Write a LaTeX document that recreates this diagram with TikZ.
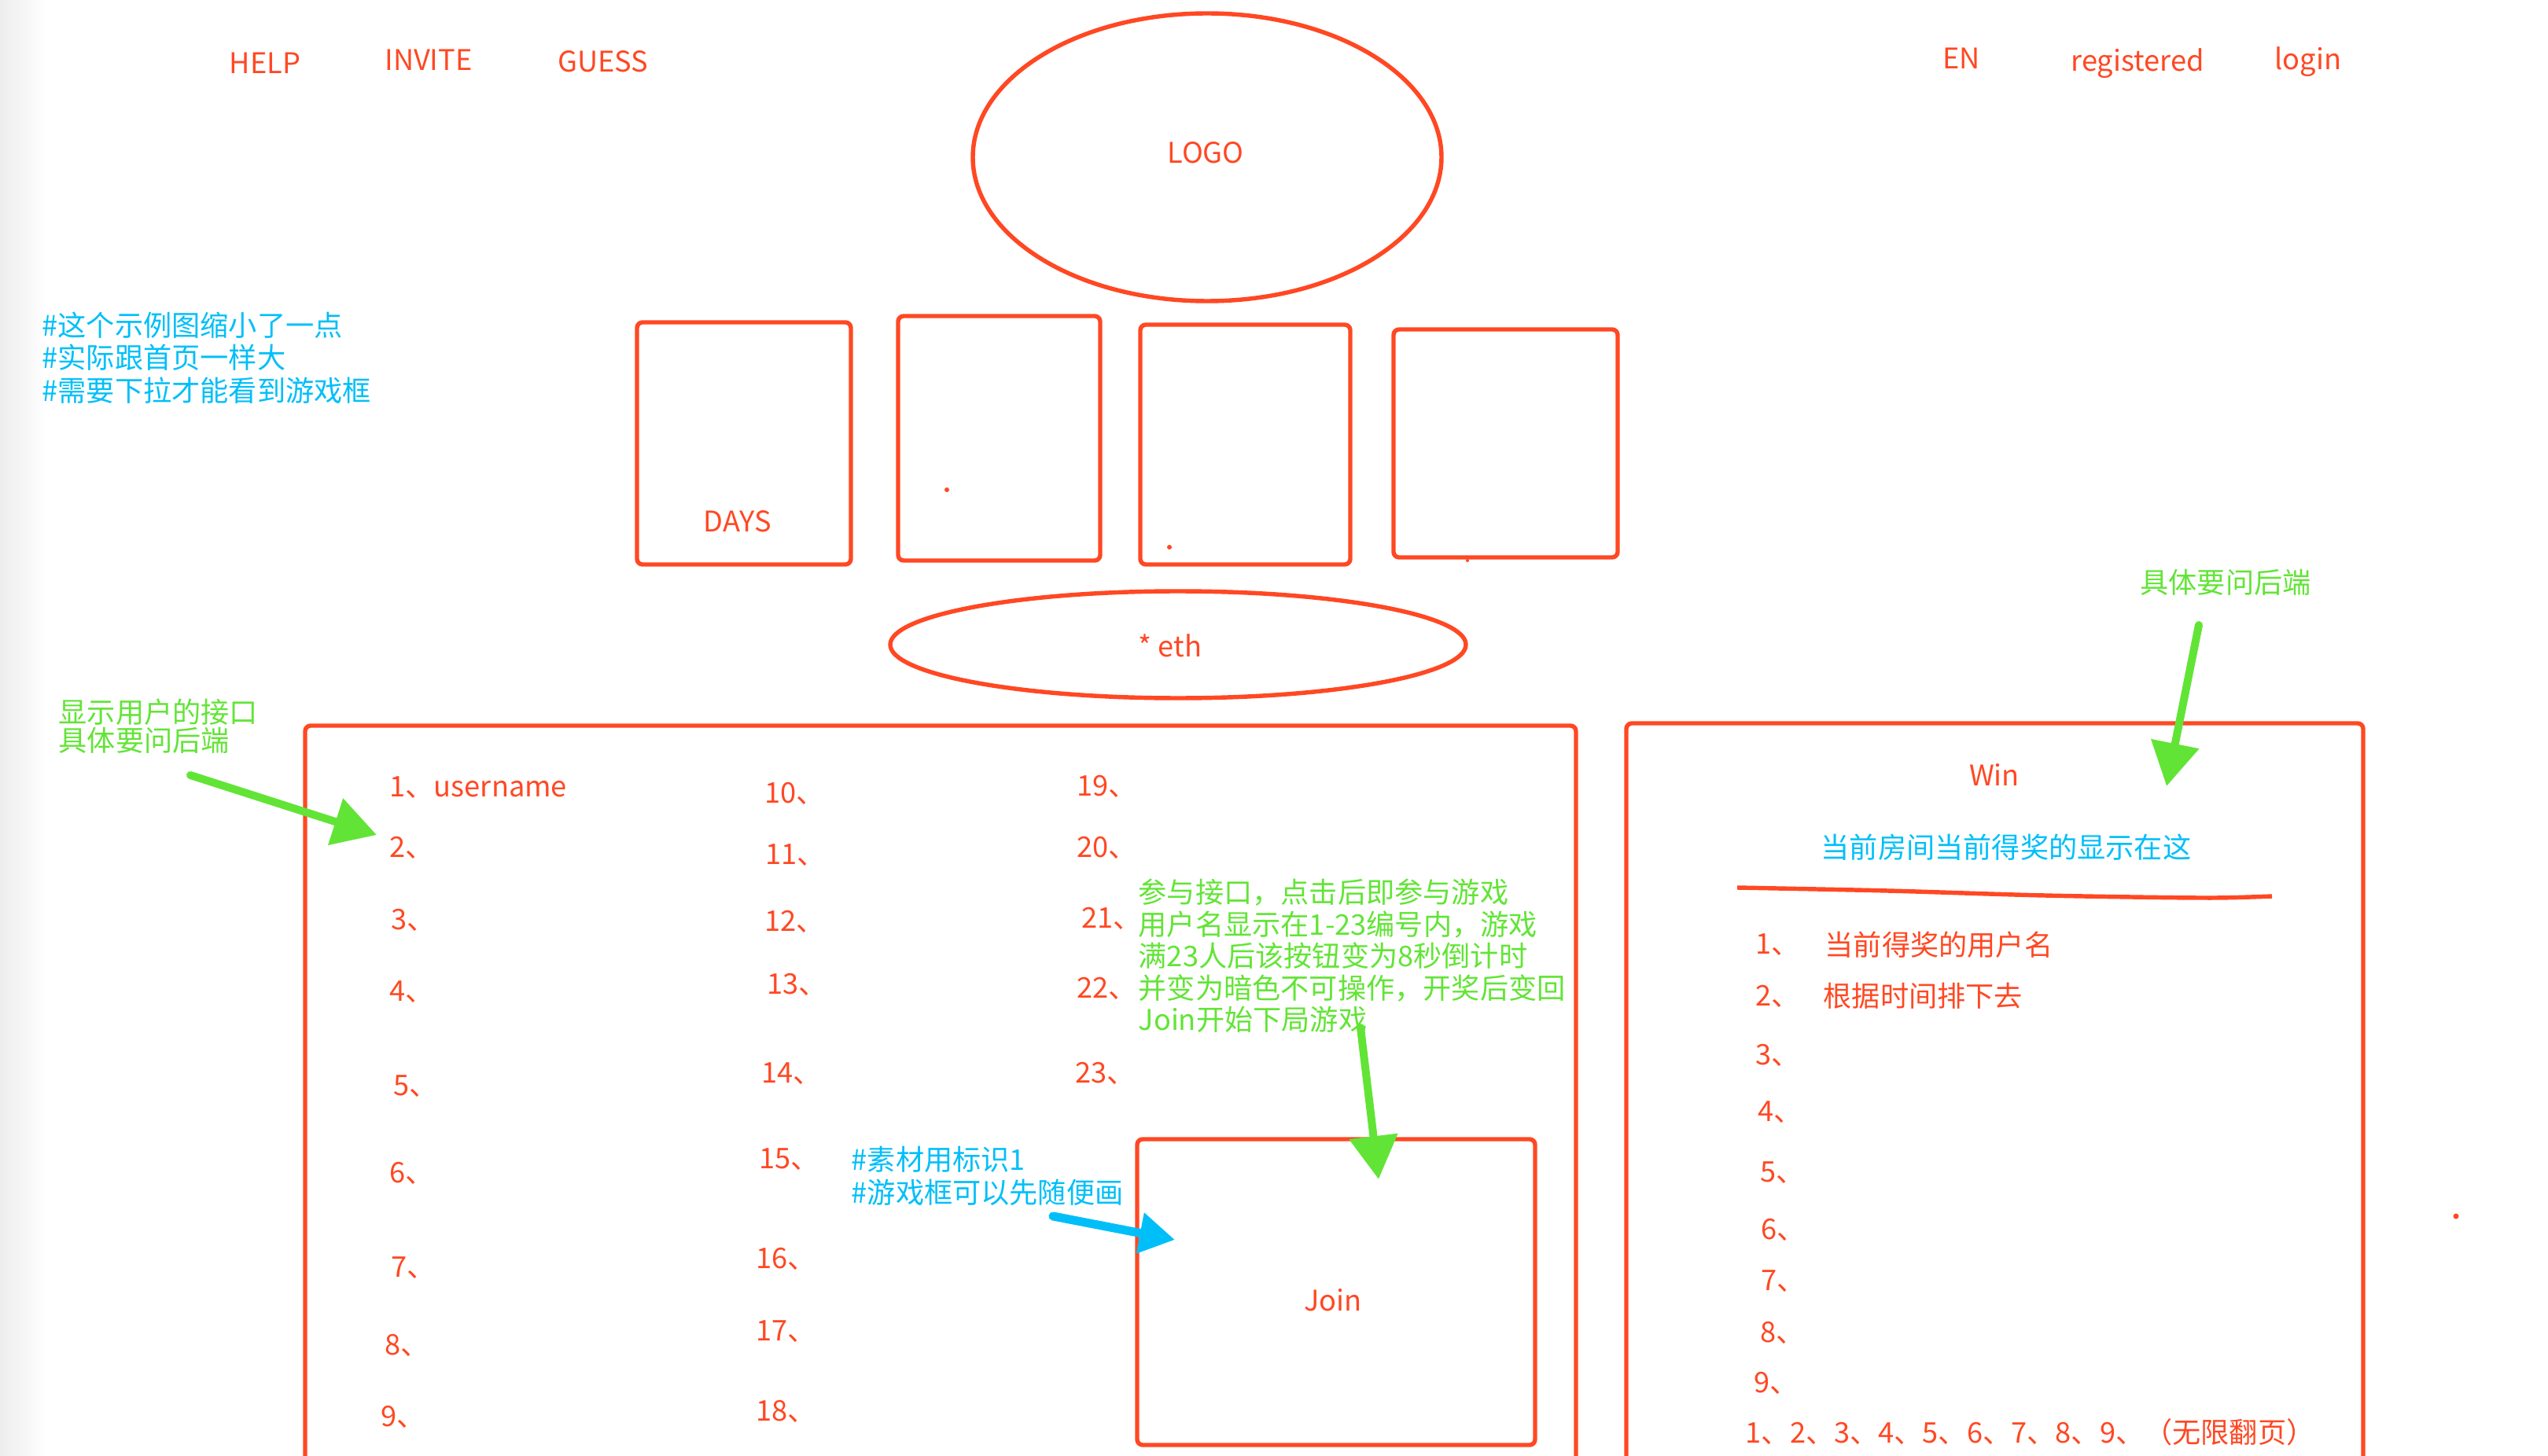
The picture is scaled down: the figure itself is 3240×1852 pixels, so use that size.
\documentclass[tikz,border=0pt]{standalone}
\usepackage{fontspec}
\setmainfont{Noto Sans CJK SC}
\usetikzlibrary{arrows.meta}
\definecolor{redc}{HTML}{FF4823}
\definecolor{greenc}{HTML}{62E436}
\definecolor{bluec}{HTML}{00BFF8}
\tikzset{
	panel/.style={draw=redc, line width=1.55pt, rounded corners=0.7mm},
	lbl/.style={inner sep=0pt, text=redc, font=\fontsize{10.3pt}{12pt}\selectfont},
	gnote/.style={inner sep=0pt, text=greenc, align=left},
	bnote/.style={inner sep=0pt, text=bluec, align=left},
	garrow/.style={draw=greenc, line width=1mm, line cap=round, -{Triangle[width=6mm,length=5.5mm]}},
	barrow/.style={draw=bluec, line width=1.1mm, line cap=round, -{Triangle[width=5mm,length=4.5mm]}}
}
\begin{document}
\begin{tikzpicture}[x=0.1mm, y=-0.1mm, line join=round, >=stealth]
	\useasboundingbox (0,0) rectangle (3240,1852);
	\clip (0,0) rectangle (3240,1852);
	\shade[left color=black!7, right color=white] (0,0) rectangle (60,1852);
	% top bar
	\node[lbl,anchor=base] (help) at (337,94) {HELP};
	\node[lbl,anchor=base] (invite) at (545,90) {INVITE};
	\node[lbl,anchor=base] (guess) at (767,92) {GUESS};
	\node[lbl,anchor=base] (lang) at (2494,88) {EN};
	\node[lbl,anchor=base] (reg) at (2718,91) {registered};
	\node[lbl,anchor=base] (login) at (2935,89) {login};
	\draw[panel] (1535,200) ellipse [x radius=298, y radius=183];
	\node[lbl] (logo) at (1533,194) {LOGO};
	% countdown boxes
	\draw[panel] (810,410) rectangle (1082,718);
	\draw[panel] (1142,402) rectangle (1399,713);
	\draw[panel] (1450,413) rectangle (1717,718);
	\draw[panel] (1772,419) rectangle (2057,709);
	\node[lbl] (days) at (938,663) {DAYS};
	\fill[redc] (1204,623) circle (3);
	\fill[redc] (1487,696) circle (3);
	\fill[redc] (1866,713) circle (2);
	\draw[panel] (1498,820) ellipse [x radius=366, y radius=68];
	\node[lbl] (eth) at (1488,821) {* eth};
	\node[bnote,anchor=west,font=\fontsize{10.3pt}{11.8pt}\selectfont] (scalenote) at (53,455) {\#这个示例图缩小了一点\\\#实际跟首页一样大\\\#需要下拉才能看到游戏框};
	% player list
	\draw[panel] (388,1870) -- (388,923) -- (2004,923) -- (2004,1870);
	\node[lbl,anchor=west] (c1) at (495,1002) {1、username};
	\foreach \n/\x/\y in {2/495/1078,3/497/1170,4/495/1262,5/500/1382,6/495/1492,7/497/1613,8/489/1711,9/484/1802,
		10/972/1009,11/973/1088,12/972/1172,13/975/1252,14/968/1366,15/965/1475,16/961/1601,17/961/1694,18/961/1795,
		19/1369/1000,20/1369/1078,21/1375/1168,22/1369/1257,23/1367/1365}{
		\node[lbl,anchor=west] (c\n) at (\x,\y) {{\n}、};}
	\node[gnote,anchor=west,font=\fontsize{10.3pt}{10.2pt}\selectfont] (userapi) at (74,924) {显示用户的接口\\具体要问后端};
	\coordinate (userfrom) at (242,986);
	\coordinate (userto) at (479,1062);
	\draw[garrow] (userfrom) -- (userto);
	\node[gnote,anchor=west,font=\fontsize{10.3pt}{11.5pt}\selectfont] (joinapi) at (1447,1216) {参与接口，点击后即参与游戏\\用户名显示在1-23编号内，游戏\\满23人后该按钮变为8秒倒计时\\并变为暗色不可操作，开奖后变回\\Join开始下局游戏};
	\draw[panel] (1446,1449) rectangle (1952,1838);
	\node[lbl] (join) at (1695,1654) {Join};
	\coordinate (joinfrom) at (1730,1307);
	\coordinate (jointo) at (1753,1500);
	\draw[garrow] (joinfrom) -- (jointo);
	\node[bnote,anchor=west,font=\fontsize{10.3pt}{11.95pt}\selectfont] (assets) at (1082,1496) {\#素材用标识1\\\#游戏框可以先随便画};
	\coordinate (assetfrom) at (1339,1547);
	\coordinate (assetto) at (1494,1577);
	\draw[barrow] (assetfrom) -- (assetto);
	% winners
	\draw[panel] (2068,1870) -- (2068,920) -- (3005,920) -- (3005,1870);
	\node[lbl] (win) at (2536,985) {Win};
	\node[bnote,font=\fontsize{10.3pt}{12pt}\selectfont] (winnote) at (2551,1078) {当前房间当前得奖的显示在这};
	\draw[panel] plot[smooth] coordinates {(2209,1129) (2400,1133) (2600,1139) (2800,1142) (2889,1140)};
	\foreach \n/\x/\y in {1/2232/1202,2/2232/1267,3/2232/1342,4/2235/1415,5/2238/1492,6/2239/1564,7/2239/1630,8/2238/1695,9/2230/1759}{
		\node[lbl,anchor=west] (r\n) at (\x,\y) {{\n}、};}
	\node[lbl,anchor=west] (r1name) at (2320,1202) {当前得奖的用户名};
	\node[lbl,anchor=west] (r2name) at (2318,1267) {根据时间排下去};
	\node[lbl,anchor=west] (pages) at (2219,1822) {1、2、3、4、5、6、7、8、9、（无限翻页）};
	\node[gnote,font=\fontsize{10.3pt}{12pt}\selectfont] (backend) at (2830,741) {具体要问后端};
	\coordinate (winfrom) at (2796,795);
	\coordinate (winto) at (2755,1000);
	\draw[garrow] (winfrom) -- (winto);
	\fill[redc] (3123,1547) circle (3.5);
\end{tikzpicture}
\end{document}
